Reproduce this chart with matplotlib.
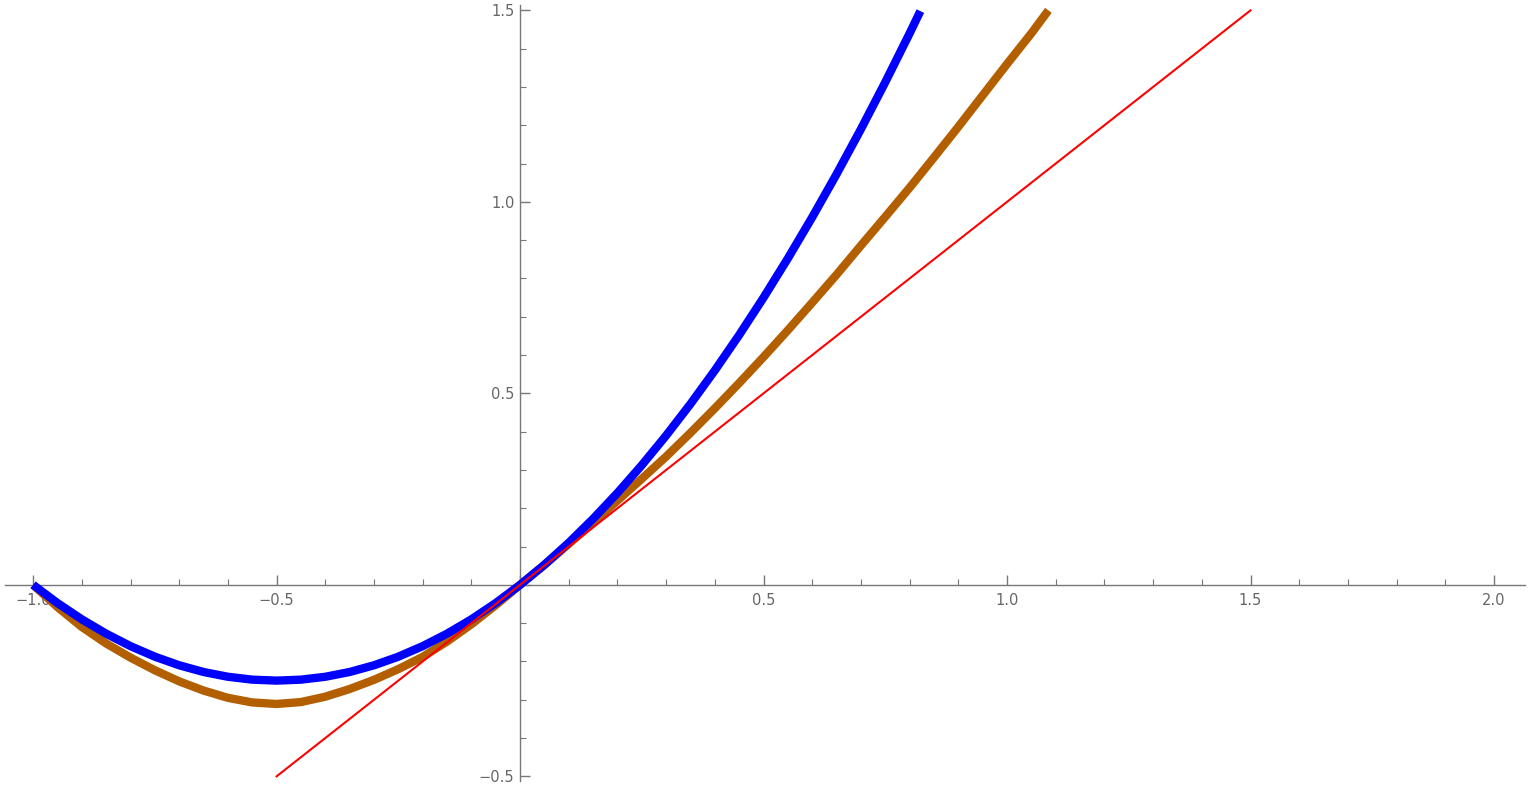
import numpy as np
import matplotlib
matplotlib.use("Agg")
import matplotlib.pyplot as plt
from matplotlib.ticker import MultipleLocator, FuncFormatter

# values
blue_x = [-1.0, -0.95, -0.9, -0.85, -0.8, -0.75, -0.7, -0.65, -0.6, -0.55, -0.5,
          -0.45, -0.4, -0.35, -0.3, -0.25, -0.2, -0.15, -0.1, -0.05, 0.0,
          0.05, 0.1, 0.15, 0.2, 0.25, 0.3, 0.35, 0.4, 0.45, 0.5,
          0.55, 0.6, 0.65, 0.7, 0.75, 0.8, 0.822]
blue_y = [0.0, -0.0475, -0.09, -0.1275, -0.16, -0.1875, -0.21, -0.2275, -0.24, -0.2475, -0.25,
          -0.2475, -0.24, -0.2275, -0.21, -0.1875, -0.16, -0.1275, -0.09, -0.0475, 0.0,
          0.0525, 0.11, 0.1725, 0.24, 0.3125, 0.39, 0.4725, 0.56, 0.6525, 0.75,
          0.8525, 0.96, 1.0725, 1.19, 1.3125, 1.44, 1.498]

brown_x = [-1.0, -0.95, -0.9, -0.85, -0.8, -0.75, -0.7, -0.65, -0.6, -0.55, -0.5,
           -0.45, -0.4, -0.35, -0.3, -0.25, -0.2, -0.15, -0.1, -0.05, 0.0,
           0.05, 0.1, 0.15, 0.2, 0.25, 0.3, 0.35, 0.4, 0.45, 0.5,
           0.55, 0.6, 0.65, 0.7, 0.75, 0.8, 0.85, 0.9, 0.95, 1.0, 1.05, 1.085]
brown_y = [0.0, -0.058, -0.11, -0.153, -0.19, -0.223, -0.252, -0.276, -0.295, -0.307, -0.311,
           -0.306, -0.292, -0.272, -0.248, -0.22, -0.188, -0.148, -0.103, -0.053, 0.0,
           0.052, 0.107, 0.162, 0.22, 0.277, 0.335, 0.397, 0.461, 0.527, 0.595,
           0.665, 0.737, 0.81, 0.886, 0.961, 1.037, 1.116, 1.196, 1.278, 1.36, 1.44, 1.5]

red_x = [-0.5, 1.5]
red_y = [-0.5, 1.5]

fig = plt.figure(figsize=(15.31, 7.89), dpi=100)
ax = fig.add_axes([0, 0, 1, 1])
ax.set_xlim(-1.068, 2.076)
ax.set_ylim(-0.533, 1.527)

ax.plot(blue_x, blue_y, color="#0000FF", lw=6, solid_capstyle="butt", solid_joinstyle="round", zorder=3)
ax.plot(brown_x, brown_y, color="#B35F00", lw=6, solid_capstyle="butt", solid_joinstyle="round", zorder=2)
ax.plot(red_x, red_y, color="#FF0000", lw=1.5, zorder=4)

for s in ["top", "right"]:
    ax.spines[s].set_visible(False)
ax.spines["left"].set_position(("data", 0))
ax.spines["bottom"].set_position(("data", 0))
ax.spines["bottom"].set_bounds(-1.057, 2.064)
ax.spines["left"].set_bounds(-0.513, 1.515)
for s in ["left", "bottom"]:
    ax.spines[s].set_color("#777777")
    ax.spines[s].set_linewidth(1.0)

ax.xaxis.set_major_locator(MultipleLocator(0.5))
ax.xaxis.set_minor_locator(MultipleLocator(0.1))
ax.yaxis.set_major_locator(MultipleLocator(0.5))
ax.yaxis.set_minor_locator(MultipleLocator(0.1))

def fmt(v, pos):
    if abs(v) < 1e-9:
        return ""
    return f"{v:.1f}".replace("-", "\u2212")

ax.xaxis.set_major_formatter(FuncFormatter(fmt))
ax.yaxis.set_major_formatter(FuncFormatter(fmt))

ax.tick_params(which="major", direction="in", length=7, width=1, color="#777777",
               labelcolor="#666666", labelsize=10.5)
ax.tick_params(which="minor", direction="in", length=4, width=0.8, color="#777777")
ax.tick_params(axis="x", which="major", pad=6)
ax.tick_params(axis="y", which="major", pad=4)

fig.savefig("out.png", dpi=100)
